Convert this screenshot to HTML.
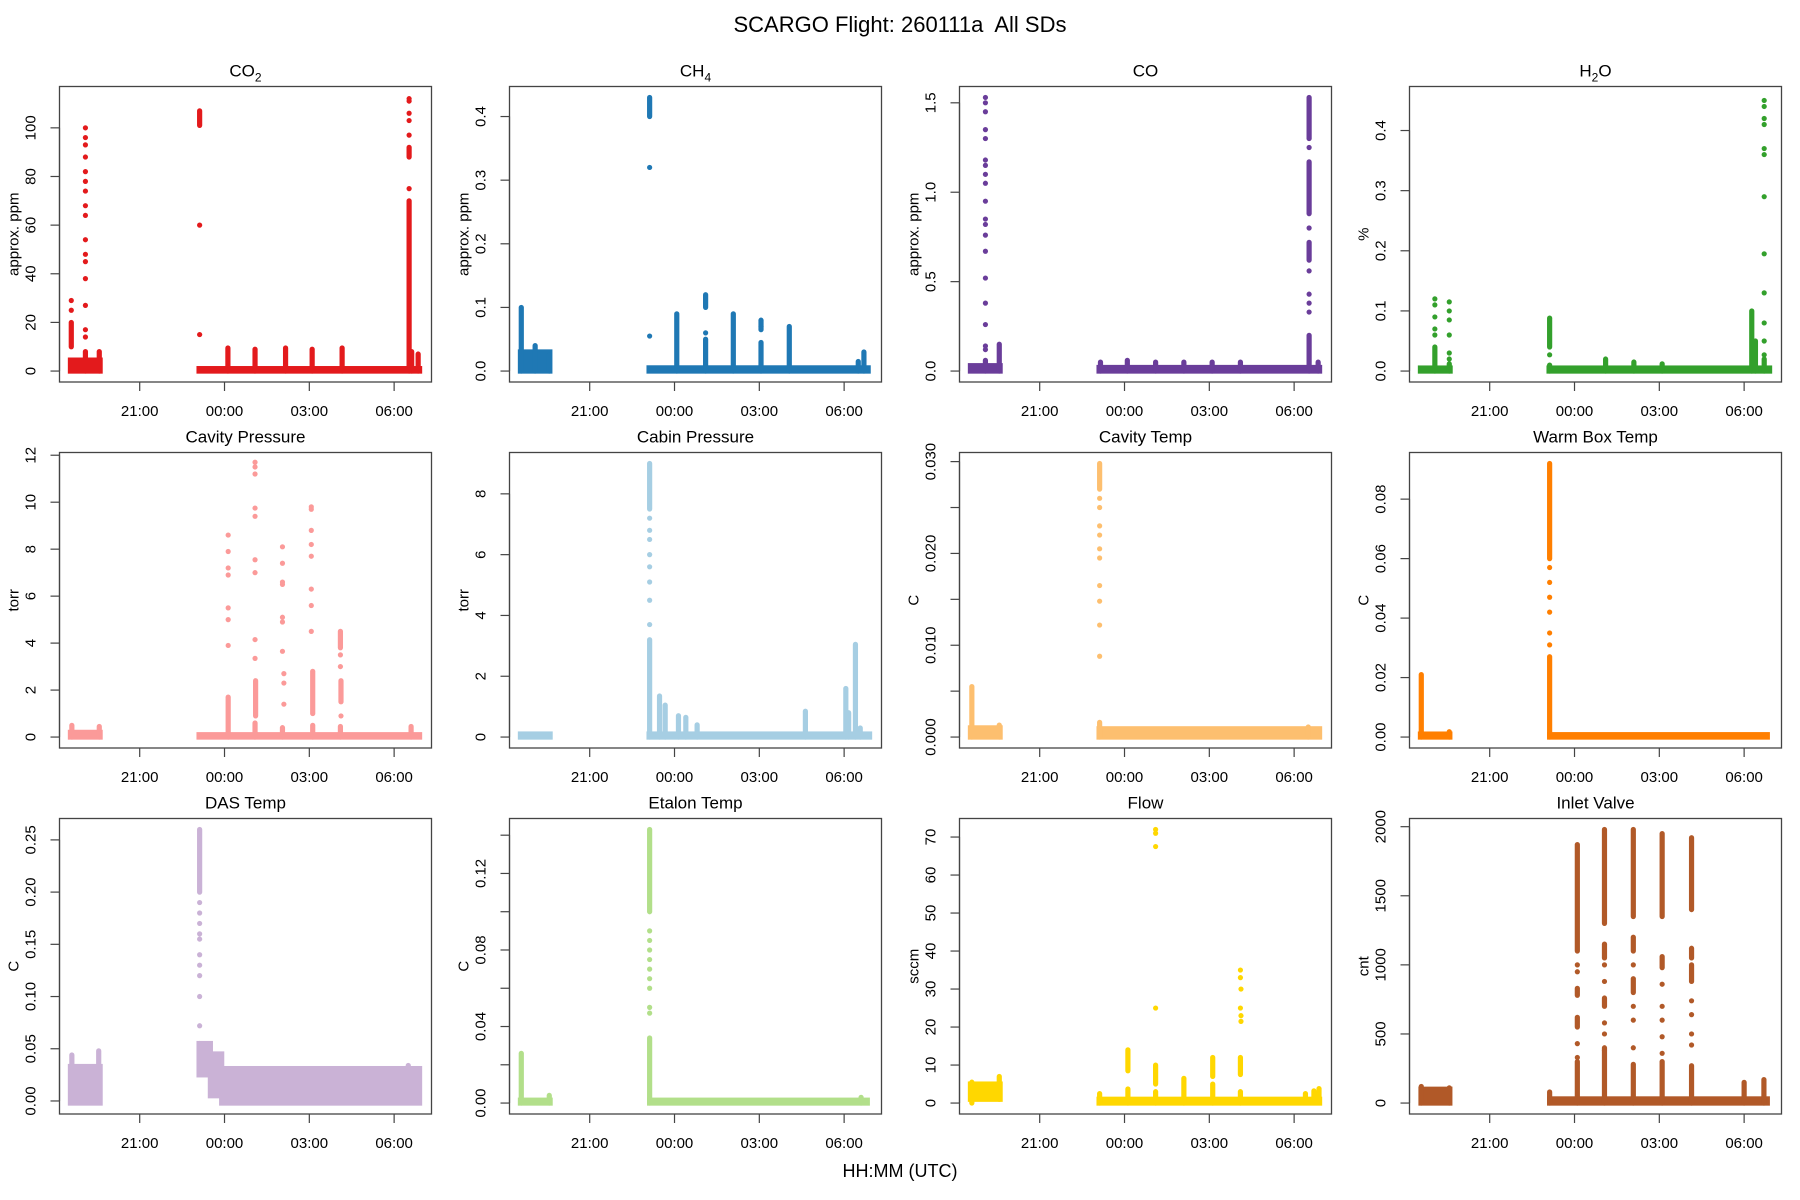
<!DOCTYPE html>
<html><head><meta charset="utf-8"><title>SCARGO Flight SDs</title>
<style>
html,body{margin:0;padding:0;background:#fff;}
svg{display:block;font-family:"Liberation Sans",Arial,sans-serif;}
</style></head>
<body>
<svg id="chart" width="1800" height="1200" viewBox="0 0 1800 1200" xmlns="http://www.w3.org/2000/svg">
<rect width="1800" height="1200" fill="#fff"/>
<text x="900" y="32" text-anchor="middle" font-size="22" style="white-space:pre">SCARGO Flight: 260111a&#160; All SDs</text>
<text x="900" y="1177" text-anchor="middle" font-size="18">HH:MM (UTC)</text>
<g id="panels"></g>
</svg>
<script>
// time in hours since 18:00 UTC
const xTickHours = [3, 6, 9, 12];
const xTickLabels = ["21:00", "00:00", "03:00", "06:00"];

// ---- CO2 ----
const co2Bands = [[0.55,1.6,0,4.5],[5.1,12.9,0,1]];
const co2Cols = [[0.58,10,20],[1.08,0,8],[1.57,0,8],[5.12,101,107],[6.12,0,9.5],[7.08,0,9],[8.16,0,9.5],[9.1,0,9],[10.16,0,9.5],[12.53,0,70],[12.62,0,8],[12.85,0,7],[12.53,88,92]];
const co2Pts = [[0.58,29],[0.58,25],[1.08,14],[1.08,17],[1.08,27],[1.08,38],[1.08,45],[1.08,48],[1.08,54],[1.08,64],[1.08,68],[1.08,74],[1.08,78],[1.08,82],[1.08,88],[1.08,93],[1.08,96],[1.08,100],[5.12,60],[5.12,15],[12.53,75],[12.53,97],[12.53,103],[12.53,106],[12.53,111],[12.53,112]];
// ---- CH4 ----
const ch4Bands = [[0.55,1.59,0,0.03],[5.1,12.85,0,0.005]];
const ch4Cols = [[0.58,0,0.1],[1.07,0,0.04],[1.57,0,0.025],[5.12,0.4,0.43],[6.08,0,0.09],[7.1,0,0.05],[7.1,0.1,0.12],[8.08,0,0.09],[9.06,0,0.045],[9.06,0.065,0.08],[10.06,0,0.07],[12.7,0,0.03],[12.5,0,0.015]];
const ch4Pts = [[5.12,0.32],[5.12,0.055],[7.1,0.06],[9.06,0.07]];
// ---- CO ----
const coBands = [[0.55,1.6,0,0.03],[5.1,12.9,0,0.02]];
const coCols = [[1.08,0,0.06],[1.57,0,0.15],[5.15,0,0.05],[6.1,0,0.06],[7.1,0,0.05],[8.1,0,0.05],[9.1,0,0.05],[10.1,0,0.05],[12.53,0,0.2],[12.53,0.88,1.17],[12.53,0.62,0.72],[12.53,1.3,1.53],[12.85,0,0.05]];
const coPts = [[1.08,1.53],[1.08,1.5],[1.08,1.45],[1.08,1.35],[1.08,1.3],[1.08,1.18],[1.08,1.15],[1.08,1.1],[1.08,1.05],[1.08,0.95],[1.08,0.85],[1.08,0.82],[1.08,0.76],[1.08,0.67],[1.08,0.52],[1.08,0.38],[1.08,0.26],[1.08,0.14],[1.08,0.12],[12.53,1.25],[12.53,0.8],[12.53,0.56],[12.53,0.43],[12.53,0.38],[12.53,0.33]];
// ---- H2O ----
const h2oBands = [[0.55,1.6,0,0.005],[5.1,12.9,0,0.005]];
const h2oCols = [[1.06,0,0.04],[1.57,0,0.012],[5.12,0.04,0.088],[5.12,0,0.01],[7.1,0,0.02],[8.1,0,0.015],[9.1,0,0.012],[12.27,0,0.1],[12.4,0,0.05],[12.71,0,0.02]];
const h2oPts = [[1.06,0.12],[1.06,0.11],[1.06,0.09],[1.06,0.07],[1.06,0.06],[1.57,0.115],[1.57,0.1],[1.57,0.085],[1.57,0.06],[1.57,0.03],[1.57,0.02],[5.12,0.027],[12.71,0.45],[12.71,0.44],[12.71,0.42],[12.71,0.41],[12.71,0.37],[12.71,0.36],[12.71,0.29],[12.71,0.195],[12.71,0.13],[12.71,0.08],[12.71,0.05],[12.71,0.027]];
// ---- Cavity Pressure ----
const cavpBands = [[0.55,1.6,0,0.2],[5.1,12.9,0,0.1]];
const cavpCols = [[0.6,0,0.5],[1.57,0,0.45],[6.13,0,1.7],[7.08,0,0.6],[7.1,0.9,2.4],[8.05,0,0.4],[9.12,0,0.5],[9.12,1.0,2.8],[10.1,0,0.45],[10.1,3.8,4.5],[10.12,1.5,2.4],[12.6,0,0.45]];
const cavpPts = [[6.13,8.6],[6.13,7.9],[6.13,7.2],[6.13,6.9],[6.13,5.5],[6.13,5.0],[6.13,3.9],[7.08,11.7],[7.08,11.5],[7.08,11.2],[7.08,9.75],[7.08,9.4],[7.08,7.55],[7.08,7.0],[7.08,4.15],[7.08,3.35],[8.05,8.1],[8.05,7.4],[8.05,6.6],[8.05,6.5],[8.05,5.1],[8.05,4.9],[8.05,3.65],[8.1,2.7],[8.1,2.3],[8.1,1.4],[9.07,9.8],[9.07,9.7],[9.07,8.8],[9.07,8.2],[9.07,7.7],[9.07,6.3],[9.07,5.6],[9.07,4.5],[10.1,3.5],[10.1,3.0],[10.12,0.9]];
// ---- Cabin Pressure ----
const cabBands = [[0.55,1.6,0,0.1],[5.1,12.9,0,0.1]];
const cabCols = [[5.12,0,3.2],[5.12,7.5,9.0],[5.47,0,1.35],[5.67,0,1.05],[6.14,0,0.7],[6.4,0,0.65],[6.8,0,0.4],[10.63,0,0.85],[12.06,0,1.6],[12.16,0,0.8],[12.4,0,3.05],[12.57,0,0.3]];
const cabPts = [[5.12,7.2],[5.12,6.8],[5.12,6.5],[5.12,6.0],[5.12,5.6],[5.12,5.1],[5.12,4.5],[5.12,3.7]];
// ---- Cavity Temp ----
const cavtBands = [[0.55,1.6,0,0.001],[5.1,12.9,0,0.0009]];
const cavtCols = [[0.6,0,0.0055],[1.57,0,0.0013],[5.12,0,0.0016],[5.12,0.027,0.0298],[12.5,0,0.0011]];
const cavtPts = [[5.12,0.026],[5.12,0.025],[5.12,0.023],[5.12,0.022],[5.12,0.0205],[5.12,0.0195],[5.12,0.0165],[5.12,0.0148],[5.12,0.0122],[5.12,0.0088]];
// ---- Warm Box Temp ----
const wbBands = [[0.55,1.59,0,0.001],[5.12,12.82,0,0.0008]];
const wbCols = [[0.58,0,0.021],[1.57,0,0.0018],[5.12,0,0.027],[5.12,0.06,0.092]];
const wbPts = [[5.12,0.057],[5.12,0.052],[5.12,0.047],[5.12,0.042],[5.12,0.035],[5.12,0.031]];
// ---- DAS Temp ----
const dasBands = [[0.55,1.6,-0.002,0.033],[5.1,5.5,0.025,0.055],[5.5,5.9,0.005,0.045],[5.9,12.9,-0.002,0.031]];
const dasCols = [[0.6,0,0.044],[1.55,0,0.048],[5.12,0.2,0.26],[5.12,0.03,0.055],[12.5,0,0.034]];
const dasPts = [[5.12,0.19],[5.12,0.18],[5.12,0.17],[5.12,0.16],[5.12,0.155],[5.12,0.14],[5.12,0.13],[5.12,0.12],[5.12,0.1],[5.12,0.072]];
// ---- Etalon Temp ----
const etBands = [[0.55,1.6,0,0.0015],[5.12,12.82,0,0.0015]];
const etCols = [[0.58,0,0.026],[1.57,0,0.004],[5.12,0,0.034],[5.12,0.1,0.143],[12.6,0,0.003]];
const etPts = [[5.12,0.09],[5.12,0.085],[5.12,0.08],[5.12,0.075],[5.12,0.07],[5.12,0.065],[5.12,0.06],[5.12,0.05],[5.12,0.047]];
// ---- Flow ----
const flowBands = [[0.55,1.6,1,5],[5.1,12.9,0,1]];
const flowCols = [[0.6,0,5.5],[1.57,1,7],[5.12,0,2.5],[6.12,0,3.7],[6.12,8.5,14],[7.1,0,3],[7.1,5,10],[8.1,0,6.5],[9.12,0,5],[9.12,7,12],[10.1,0,3],[10.1,7.5,12],[12.4,0.5,2.5],[12.7,1,3.2],[12.88,1,3.8]];
const flowPts = [[7.1,72],[7.1,71],[7.1,67.5],[7.1,25],[10.1,35],[10.1,33],[10.12,30],[10.1,25],[10.12,23],[10.12,21.5]];
// ---- Inlet Valve ----
const inBands = [[0.57,1.59,0,100],[5.12,12.82,0,30]];
const inCols = [[0.58,0,120],[1.57,0,110],[5.12,0,80],[6.1,0,300],[6.1,1100,1870],[6.1,550,620],[6.1,780,830],[7.06,0,400],[7.06,1300,1980],[7.06,700,760],[7.06,1050,1150],[8.08,0,280],[8.08,1350,1980],[8.08,800,900],[8.08,1100,1200],[9.1,0,300],[9.1,1350,1950],[9.1,980,1060],[10.14,0,270],[10.14,1400,1920],[10.14,880,1000],[10.14,1050,1120],[12.0,0,150],[12.7,0,170]];
const inPts = [[6.1,950],[6.1,430],[6.1,330],[6.1,1000],[7.06,580],[7.06,500],[7.06,380],[7.06,880],[7.06,1000],[8.08,600],[8.08,400],[8.08,700],[8.08,1000],[9.1,600],[9.1,480],[9.1,360],[9.1,700],[9.1,860],[10.14,640],[10.14,500],[10.14,420],[10.14,740]];

const panels = [
 {name:"co2",title:"CO",sub:"2",ylab:"approx. ppm",color:"#E31A1C",ymin:0,ymax:112.5,ticks:[0,20,40,60,80,100],labels:["0","20","40","60","80","100"],bands:co2Bands,cols:co2Cols,pts:co2Pts},
 {name:"ch4",title:"CH",sub:"4",ylab:"approx. ppm",color:"#1F78B4",ymin:0,ymax:0.43,ticks:[0,0.1,0.2,0.3,0.4],labels:["0.0","0.1","0.2","0.3","0.4"],bands:ch4Bands,cols:ch4Cols,pts:ch4Pts},
 {name:"co",title:"CO",sub:"",ylab:"approx. ppm",color:"#6A3D9A",ymin:0,ymax:1.53,ticks:[0,0.5,1,1.5],labels:["0.0","0.5","1.0","1.5"],bands:coBands,cols:coCols,pts:coPts},
 {name:"h2o",title:"H",sub:"2",title2:"O",ylab:"%",color:"#33A02C",ymin:0,ymax:0.455,ticks:[0,0.1,0.2,0.3,0.4],labels:["0.0","0.1","0.2","0.3","0.4"],bands:h2oBands,cols:h2oCols,pts:h2oPts},
 {name:"cavity-pressure",title:"Cavity Pressure",ylab:"torr",color:"#FB9A99",ymin:0,ymax:11.65,ticks:[0,2,4,6,8,10,12],labels:["0","2","4","6","8","10","12"],bands:cavpBands,cols:cavpCols,pts:cavpPts},
 {name:"cabin-pressure",title:"Cabin Pressure",ylab:"torr",color:"#A6CEE3",ymin:0,ymax:9.0,ticks:[0,2,4,6,8],labels:["0","2","4","6","8"],bands:cabBands,cols:cabCols,pts:cabPts},
 {name:"cavity-temp",title:"Cavity Temp",ylab:"C",color:"#FDBF6F",ymin:0,ymax:0.0298,ticks:[0,0.005,0.01,0.015,0.02,0.025,0.03],labels:["0.000","","0.010","","0.020","","0.030"],bands:cavtBands,cols:cavtCols,pts:cavtPts},
 {name:"warm-box-temp",title:"Warm Box Temp",ylab:"C",color:"#FF7F00",ymin:0,ymax:0.092,ticks:[0,0.02,0.04,0.06,0.08],labels:["0.00","0.02","0.04","0.06","0.08"],bands:wbBands,cols:wbCols,pts:wbPts},
 {name:"das-temp",title:"DAS Temp",ylab:"C",color:"#CAB2D6",ymin:-0.002,ymax:0.26,ticks:[0,0.05,0.1,0.15,0.2,0.25],labels:["0.00","0.05","0.10","0.15","0.20","0.25"],bands:dasBands,cols:dasCols,pts:dasPts},
 {name:"etalon-temp",title:"Etalon Temp",ylab:"C",color:"#B2DF8A",ymin:0,ymax:0.143,ticks:[0,0.02,0.04,0.06,0.08,0.1,0.12,0.14],labels:["0.00","","0.04","","0.08","","0.12",""],bands:etBands,cols:etCols,pts:etPts},
 {name:"flow",title:"Flow",ylab:"sccm",color:"#FFD700",ymin:0,ymax:72,ticks:[0,10,20,30,40,50,60,70],labels:["0","10","20","30","40","50","60","70"],bands:flowBands,cols:flowCols,pts:flowPts},
 {name:"inlet-valve",title:"Inlet Valve",ylab:"cnt",color:"#B15928",ymin:0,ymax:1980,ticks:[0,500,1000,1500,2000],labels:["0","500","1000","1500","2000"],bands:inBands,cols:inCols,pts:inPts}
];

const NS = "http://www.w3.org/2000/svg";
const root = document.getElementById("panels");
const PW = 372, PH = 295.5, R = 2.6;
function mk(tag, attrs, parent){
  const e = document.createElementNS(NS, tag);
  for (const k in attrs) e.setAttribute(k, attrs[k]);
  parent.appendChild(e);
  return e;
}
panels.forEach((p, i) => {
  const col = i % 4, row = Math.floor(i / 4);
  const L = 59.5 + 450 * col, T = 86.5 + 366 * row, B = T + PH;
  const xS = h => L + 80.2 + (h - 3) * 28.27;
  const pad = PH * 0.04 / 1.08;
  const yS = v => (B - pad) - (v - p.ymin) / (p.ymax - p.ymin) * (PH - 2 * pad);
  const g = mk("g", {}, root);
  
  
  const t = mk("text", {x: L + PW/2, y: T - 10, "text-anchor": "middle", "font-size": 17}, g);
  
  
  t.appendChild(document.createTextNode(p.title));
  if (p.sub) {
    const s = mk("tspan", {"font-size": 12, dy: 5}, t);
    s.textContent = p.sub;
    if (p.title2) { const s2 = mk("tspan", {dy: -5}, t); s2.textContent = p.title2; }
  }
  const mg = mk("g", {fill: p.color}, g);
  
  
  p.bands.forEach(b => {
    const r = mk("rect", {x: xS(b[0]) - R, y: yS(b[3]) - R, width: xS(b[1]) - xS(b[0]) + 2*R, height: yS(b[2]) - yS(b[3]) + 2*R}, mg);
    
    
  });
  p.cols.forEach(c => {
    const r = mk("rect", {x: xS(c[0]) - R, y: yS(c[2]) - R, width: 2*R, height: yS(c[1]) - yS(c[2]) + 2*R, rx: R}, mg);
    
    
  });
  p.pts.forEach(q => {
    const c = mk("circle", {cx: xS(q[0]), cy: yS(q[1]), r: R}, mg);
    
    
  });
  const bx = mk("rect", {x: L, y: T, width: PW, height: PH, fill: "none", stroke: "#444", "stroke-width": 1.3}, g);
  
  
  const xa = mk("g", {"font-size": 15, "text-anchor": "middle"}, g);
  
  
  xTickHours.forEach((h, k) => {
    mk("line", {x1: xS(h), x2: xS(h), y1: B, y2: B + 9, stroke: "#444", "stroke-width": 1.2}, xa);
    const lt = mk("text", {x: xS(h), y: B + 34}, xa);
    
    
    lt.textContent = xTickLabels[k];
  });
  const ya = mk("g", {"font-size": 15, "text-anchor": "middle"}, g);
  
  
  mk("line", {x1: L, x2: L, y1: yS(p.ticks[0]), y2: yS(p.ticks[p.ticks.length-1]), stroke: "#444", "stroke-width": 1.2}, ya);
  p.ticks.forEach((v, k) => {
    const yy = yS(v);
    mk("line", {x1: L - 9, x2: L, y1: yy, y2: yy, stroke: "#444", "stroke-width": 1.2}, ya);
    if (p.labels[k]) {
      const lt = mk("text", {x: L - 24, y: yy, transform: `rotate(-90 ${L - 24} ${yy})`}, ya);
      
      
      lt.textContent = p.labels[k];
    }
  });
  const cy = T + PH/2;
  const yt = mk("text", {x: L - 41, y: cy, transform: `rotate(-90 ${L - 41} ${cy})`, "font-size": 15, "text-anchor": "middle"}, g);
  
  
  yt.textContent = p.ylab;
});
</script>
</body></html>
